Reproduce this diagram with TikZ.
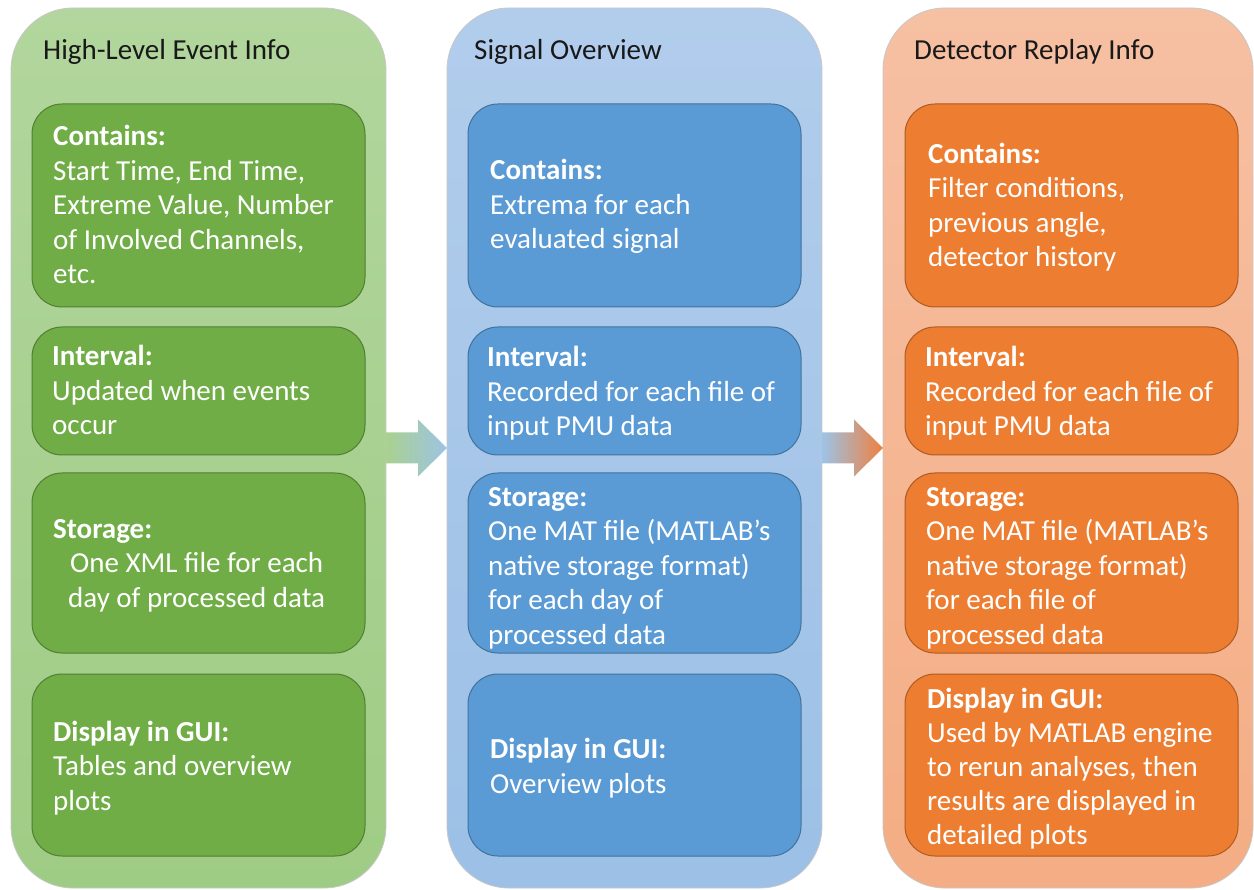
\documentclass[tikz,border=0pt]{standalone}
\usepackage{fontspec}
\setmainfont{Carlito}
\usetikzlibrary{calc}
\definecolor{gOutT}{HTML}{B2D69D}
\definecolor{gOutB}{HTML}{9FCC85}
\definecolor{gIn}{HTML}{70AD47}
\definecolor{gLine}{HTML}{507E32}
\definecolor{bOutT}{HTML}{B2CDEC}
\definecolor{bOutB}{HTML}{9CC0E6}
\definecolor{bIn}{HTML}{5B9BD5}
\definecolor{bLine}{HTML}{41719C}
\definecolor{oOutT}{HTML}{F6C0A3}
\definecolor{oOutB}{HTML}{F4AD84}
\definecolor{oIn}{HTML}{ED7D31}
\definecolor{oLine}{HTML}{AE5A21}
\definecolor{arrG}{HTML}{A9D18E}
\definecolor{arrB}{HTML}{9DC3E6}
\definecolor{arrO}{HTML}{EE8040}
\begin{document}
\begin{tikzpicture}[x=1pt,y=-1pt,
  column/.style={rectangle, rounded corners=62pt, draw=black!22, line width=0.8pt,
    minimum width=375pt, minimum height=880pt, anchor=north west, inner sep=0pt, outer sep=0pt},
  ibox/.style={rectangle, rounded corners=30pt, line width=1pt,
    minimum width=333pt, anchor=north west, inner sep=0pt, outer sep=0pt},
  gbox/.style={ibox, fill=gIn, draw=gLine},
  bbox/.style={ibox, fill=bIn, draw=bLine},
  obox/.style={ibox, fill=oIn, draw=oLine},
  title/.style={anchor=base west, inner sep=0pt, text=black!90, font=\fontsize{29}{34}\selectfont},
  txt/.style={anchor=base west, inner sep=0pt, align=left, text=white, font=\fontsize{29}{34.5}\selectfont},
]
\useasboundingbox (0,0) rectangle (1254,890);

% columns
\node[column, top color=gOutT, bottom color=gOutB] (G) at (11,8) {};
\node[column, top color=bOutT, bottom color=bOutB] (B) at (447,8) {};
\node[column, top color=oOutT, bottom color=oOutB, minimum width=370pt] (O) at (883,8) {};

% arrows
\path[left color=arrG, right color=arrB]
  ($(G.east)+(0,-15.5)$) -- ($(B.west)+(-29,-15.5)$) -- ($(B.west)+(-29,-28.5)$) -- (B.west)
  -- ($(B.west)+(-29,28.5)$) -- ($(B.west)+(-29,15.5)$) -- ($(G.east)+(0,15.5)$) -- cycle;
\path[left color=arrB, right color=arrO]
  ($(B.east)+(0,-15.5)$) -- ($(O.west)+(-29,-15.5)$) -- ($(O.west)+(-29,-28.5)$) -- (O.west)
  -- ($(O.west)+(-29,28.5)$) -- ($(O.west)+(-29,15.5)$) -- ($(B.east)+(0,15.5)$) -- cycle;

% titles
\node[title] (Gt) at (43,60) {High-Level Event Info};
\node[title] (Bt) at (474,60) {Signal Overview};
\node[title] (Ot) at (914,60) {Detector Replay Info};

% green boxes
\node[gbox, minimum height=203pt] (G1) at (32,104) {};
\node[gbox, minimum height=128pt] (G2) at (32,327) {};
\node[gbox, minimum height=180pt] (G3) at (32,473) {};
\node[gbox, minimum height=182pt] (G4) at (32,674) {};
% blue boxes
\node[bbox, minimum height=203pt] (B1) at (468,104) {};
\node[bbox, minimum height=128pt] (B2) at (468,327) {};
\node[bbox, minimum height=180pt] (B3) at (468,473) {};
\node[bbox, minimum height=182pt] (B4) at (468,674) {};
% orange boxes
\node[obox, minimum height=203pt] (O1) at (905,104) {};
\node[obox, minimum height=128pt] (O2) at (905,327) {};
\node[obox, minimum height=180pt] (O3) at (905,473) {};
\node[obox, minimum height=182pt] (O4) at (905,674) {};

% texts: anchored at the baseline of their last line
% green
\node[txt] (G1t) at (53,284) {\textbf{Contains:}\\Start Time, End Time,\\Extreme Value, Number\\of Involved Channels,\\etc.};
\node[txt] (G2t) at (52,435) {\textbf{Interval:}\\Updated when events\\occur};
\node[txt] (G3t) at (53,607) {\textbf{Storage:}\\\hspace*{17pt}One XML file for each\\\hspace*{15pt}day of processed data};
\node[txt] (G4t) at (53,810) {\textbf{Display in GUI:}\\Tables and overview\\plots};

% blue
\node[txt] (B1t) at (490,249) {\textbf{Contains:}\\Extrema for each\\evaluated signal};
\node[txt] (B2t) at (487,436) {\textbf{Interval:}\\Recorded for each file of\\input PMU data};
\node[txt] (B3t) at (488,644) {\textbf{Storage:}\\One MAT file (MATLAB’s\\native storage format)\\for each day of\\processed data};
\node[txt] (B4t) at (490,793) {\textbf{Display in GUI:}\\Overview plots};

% orange
\node[txt] (O1t) at (928,267) {\textbf{Contains:}\\Filter conditions,\\previous angle,\\detector history};
\node[txt] (O2t) at (925,436) {\textbf{Interval:}\\Recorded for each file of\\input PMU data};
\node[txt] (O3t) at (926,644) {\textbf{Storage:}\\One MAT file (MATLAB’s\\native storage format)\\for each file of\\processed data};
\node[txt, font=\fontsize{29}{34}\selectfont] (O4t) at (927,844) {\textbf{Display in GUI:}\\Used by MATLAB engine\\to rerun analyses, then\\results are displayed in\\detailed plots};
\end{tikzpicture}
\end{document}
